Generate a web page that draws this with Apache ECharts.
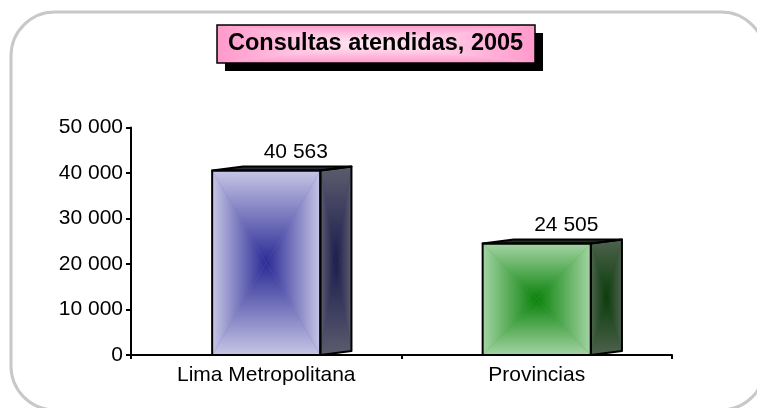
<!DOCTYPE html>
<html>
<head>
<meta charset="utf-8">
<script src="https://cdn.jsdelivr.net/npm/echarts@6/dist/echarts.min.js"></script>
<style>
html,body{margin:0;padding:0;background:#fff;}
#chart{width:757px;height:408px;}
</style>
</head>
<body>
<div id="chart"></div>
<script>
// ---- data ----
const titleText = 'Consultas atendidas, 2005';
const categories = ['Lima Metropolitana', 'Provincias'];
const values = [40563, 24505];
const yMin = 0;
const yMax = 50000;
const yInterval = 10000;
// face colours per bar: [front edge, front centre, side edge, side centre, top]
const barColors = [
  ['#c6c6e6', '#2a2a96', '#5c5c6e', '#1c1c4e', '#2a2a3a'],
  ['#a4d4a4', '#0a820a', '#4e624e', '#0a3c0a', '#203020']
];

const FONT = 'Arial, "Liberation Sans", sans-serif';

function fmt(n) {
  return String(n).replace(/\B(?=(\d{3})+(?!\d))/g, ' ');
}

function grad(x0, y0, x1, y1, cEdge, cCenter) {
  return new echarts.graphic.LinearGradient(x0, y0, x1, y1, [
    { offset: 0, color: cEdge },
    { offset: 1, color: cCenter }
  ]);
}

// four triangles from centre to each edge -> rectangular "from centre" gradient
function boxGradient(p, cEdge, cCenter, extra) {
  const cx = (p[0][0] + p[1][0] + p[2][0] + p[3][0]) / 4;
  const cy = (p[0][1] + p[1][1] + p[2][1] + p[3][1]) / 4;
  const c = [cx, cy];
  const mid = echarts.color.lerp(0.5, [cEdge, cCenter]);
  const base = extra || {};
  return [
    Object.assign({ type: 'polygon', shape: { points: p }, style: { fill: mid } }, base),
    Object.assign({ type: 'polygon', shape: { points: [p[0], p[1], c] }, style: { fill: grad(0, 0, 0, 1, cEdge, cCenter) } }, base),
    Object.assign({ type: 'polygon', shape: { points: [p[3], p[2], c] }, style: { fill: grad(0, 1, 0, 0, cEdge, cCenter) } }, base),
    Object.assign({ type: 'polygon', shape: { points: [p[0], p[3], c] }, style: { fill: grad(0, 0, 1, 0, cEdge, cCenter) } }, base),
    Object.assign({ type: 'polygon', shape: { points: [p[1], p[2], c] }, style: { fill: grad(1, 0, 0, 0, cEdge, cCenter) } }, base)
  ];
}

function renderItem(params, api) {
  const i = params.dataIndex;
  const col = barColors[i];
  const top = api.coord([api.value(0), api.value(1)]);
  const base = api.coord([api.value(0), 0]);
  const band = api.size([1, 0])[0];
  const w = band * 0.4;
  const d = band * 0.115;
  const rise = 4;
  const x0 = top[0] - w / 2, x1 = top[0] + w / 2;
  const yt = top[1], yb = base[1];

  const front = [[x0, yt], [x1, yt], [x1, yb], [x0, yb]];
  const side = [[x1, yt], [x1 + d, yt - rise], [x1 + d, yb - rise], [x1, yb]];
  const topFace = [[x0, yt], [x0 + d, yt - rise], [x1 + d, yt - rise], [x1, yt]];

  const children = []
    .concat(boxGradient(front, col[0], col[1]))
    .concat(boxGradient(side, col[2], col[3]))
    .concat([
      { type: 'polygon', shape: { points: topFace }, style: { fill: col[4], stroke: '#000', lineWidth: 2, lineJoin: 'round' } },
      { type: 'polygon', shape: { points: side }, style: { fill: 'none', stroke: '#000', lineWidth: 2, lineJoin: 'round' } },
      { type: 'polygon', shape: { points: front }, style: { fill: 'none', stroke: '#000', lineWidth: 2, lineJoin: 'round' } },
      {
        type: 'text',
        style: {
          text: fmt(api.value(1)),
          x: top[0] + d * 0.95,
          y: yt - 18,
          align: 'center',
          verticalAlign: 'middle',
          fontSize: 21,
          fontFamily: FONT,
          fill: '#000'
        }
      }
    ]);
  return { type: 'group', children: children };
}

// title box (decoration only; the text itself is the title component)
const tb = { x: 217, y: 25, w: 318, h: 38 };
const titleBox = [
  { type: 'rect', silent: true, z: 1, shape: { x: tb.x + 8, y: tb.y + 8, width: tb.w, height: tb.h }, style: { fill: '#000' } }
].concat(
  boxGradient([[tb.x, tb.y], [tb.x + tb.w, tb.y], [tb.x + tb.w, tb.y + tb.h], [tb.x, tb.y + tb.h]],
    '#ff99cc', '#ffeef7', { silent: true, z: 2 })
).concat([
  { type: 'rect', silent: true, z: 3, shape: { x: tb.x, y: tb.y, width: tb.w, height: tb.h }, style: { fill: 'none', stroke: '#000', lineWidth: 1.5 } }
]);

const chart = echarts.init(document.getElementById('chart'), null, { renderer: 'canvas' });
chart.setOption({
  animation: false,
  backgroundColor: '#ffffff',
  textStyle: { fontFamily: FONT },
  title: {
    text: titleText,
    left: 228,
    top: 30.5,
    padding: 0,
    z: 10,
    textStyle: {
      fontSize: 23.5,
      fontWeight: 'bold',
      fontFamily: FONT,
      color: '#000',
      lineHeight: 27
    }
  },
  graphic: [
    {
      type: 'rect',
      z: -10,
      silent: true,
      shape: { x: 11, y: 12, width: 754, height: 398, r: 44 },
      style: { fill: 'none', stroke: '#c8c8c8', lineWidth: 3 }
    }
  ].concat(titleBox),
  grid: { left: 131, right: 85, top: 127.5, bottom: 53, containLabel: false },
  xAxis: {
    type: 'category',
    data: categories,
    boundaryGap: true,
    axisLine: { show: true, lineStyle: { color: '#000', width: 2 } },
    axisTick: { show: true, length: 4, lineStyle: { color: '#000', width: 2 } },
    axisLabel: { color: '#000', fontSize: 21, fontFamily: FONT, margin: 10 },
    splitLine: { show: false }
  },
  yAxis: {
    type: 'value',
    min: yMin,
    max: yMax,
    interval: yInterval,
    axisLine: { show: true, lineStyle: { color: '#000', width: 2 } },
    axisTick: { show: true, length: 5, lineStyle: { color: '#000', width: 2 } },
    axisLabel: { color: '#000', fontSize: 21, fontFamily: FONT, margin: 8, formatter: v => fmt(v) },
    splitLine: { show: false }
  },
  series: [
    {
      type: 'custom',
      renderItem: renderItem,
      data: values.map((v, i) => [i, v]),
      encode: { x: 0, y: 1 },
      clip: false,
      z: 1
    }
  ]
});
</script>
</body>
</html>
